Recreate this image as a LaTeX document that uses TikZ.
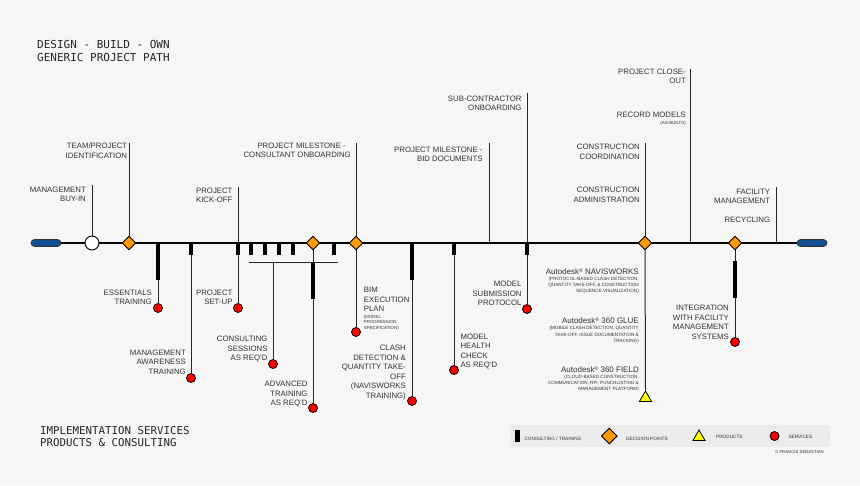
\documentclass[tikz,border=0pt]{standalone}
\usepackage{fontspec}
\setmainfont{Liberation Sans}
\newfontfamily\monofnt{DejaVu Sans Mono}
\usetikzlibrary{shapes.geometric}
\definecolor{bgc}{HTML}{F6F6F6}
\definecolor{legbg}{HTML}{EBEBEB}
\definecolor{dorange}{HTML}{FF9900}
\definecolor{dred}{HTML}{FF0000}
\definecolor{dyellow}{HTML}{FFFF00}
\definecolor{dblue}{HTML}{14508F}
\definecolor{txt}{HTML}{333333}
\pgfdeclarelayer{bglayer}
\pgfdeclarelayer{linelayer}
\pgfsetlayers{bglayer,linelayer,main}
\tikzset{
  lbl/.style={font=\fontsize{7.8}{9.5}\selectfont, text=txt, inner sep=0pt},
  lblR/.style={lbl, anchor=base east, align=right},
  lblL/.style={lbl, anchor=base west, align=left},
  tinyR/.style={font=\fontsize{4.4}{5.7}\selectfont, text=txt, inner sep=0pt, anchor=base east, align=right},
  tinyL/.style={font=\fontsize{4.4}{5.7}\selectfont, text=txt, inner sep=0pt, anchor=base west, align=left},
  prodT/.style={font=\fontsize{8}{9}\selectfont, text=txt, inner sep=0pt, anchor=base east, align=right},
  prodS/.style={font=\fontsize{4.6}{6.2}\selectfont, text=txt, inner sep=0pt, anchor=base east, align=right},
  legtxt/.style={font=\fontsize{4.7}{5.5}\selectfont, text=txt, inner sep=0pt, anchor=base west},
  title/.style={font=\monofnt\fontsize{11}{12.7}\selectfont, text=black!85, inner sep=0pt, anchor=base west, align=left},
  decision/.style={diamond, draw=black, line width=0.9pt, fill=dorange, minimum width=14pt, minimum height=14pt, inner sep=0pt},
  service/.style={circle, draw=black, line width=0.8pt, fill=dred, minimum size=9pt, inner sep=0pt},
  product/.style={regular polygon, regular polygon sides=3, draw=black, line width=0.8pt, fill=dyellow, minimum size=14pt, inner sep=0pt},
  bar/.style={rectangle, fill=black, minimum width=4pt, inner sep=0pt, anchor=north},
  shortbar/.style={bar, minimum height=12pt},
  longbar/.style={bar, minimum height=37pt},
  capsule/.style={rectangle, rounded corners=3.5pt, minimum width=30pt, minimum height=7pt, inner sep=0pt, fill=dblue, draw=black!80, line width=0.7pt},
  startpt/.style={circle, draw=black, line width=0.9pt, fill=white, minimum size=14pt, inner sep=0pt},
  conn/.style={draw=black!85, line width=1pt},
  mainline/.style={draw=black, line width=2pt},
}
\begin{document}
\begin{tikzpicture}[x=1pt,y=-1pt]
\begin{pgfonlayer}{bglayer}
  \fill[bgc] (0,0) rectangle (860,485);
  \fill[legbg] (510,425) rectangle (830,446.7);
\end{pgfonlayer}
\useasboundingbox (0,0) rectangle (860,485);

% titles (base anchor = last line)
\node[title] (t1) at (37,61) {DESIGN - BUILD - OWN\\GENERIC PROJECT PATH};
\node[title, font=\monofnt\fontsize{10.8}{12.4}\selectfont] (t2) at (40,446.7) {IMPLEMENTATION SERVICES\\PRODUCTS \& CONSULTING};

% main line markers
\node[capsule] (capL) at (46,243) {};
\node[capsule] (capR) at (812,243) {};
\node[startpt] (c1) at (92,243) {};
\node[decision] (d1) at (129,243) {};
\node[longbar] (b1) at (158,243) {};
\node[shortbar] (b2) at (191,243) {};
\node[shortbar] (b3) at (238,243) {};
\node[shortbar] (b4) at (251,243) {};
\node[shortbar] (b5) at (265,243) {};
\node[shortbar] (b6) at (279,243) {};
\node[shortbar] (b7) at (293,243) {};
\node[decision] (d2) at (313,243) {};
\node[longbar] (b8) at (313,262) {};
\node[shortbar] (b9) at (334,243) {};
\node[decision] (d3) at (356,243) {};
\node[longbar] (b10) at (412,243) {};
\node[shortbar] (b11) at (454,243) {};
\node[shortbar] (b12) at (527,243) {};
\node[decision] (d4) at (645,243) {};
\node[decision] (d5) at (735,243) {};
\node[longbar] (b13) at (735,261) {};

% services / products
\node[service] (r1) at (158,308) {};
\node[service] (r2) at (191,378) {};
\node[service] (r3) at (238,308) {};
\node[service] (r4) at (273,364) {};
\node[service] (r5) at (313,408) {};
\node[service] (r6) at (356,332) {};
\node[service] (r7) at (412,401) {};
\node[service] (r8) at (454,370) {};
\node[service] (r9) at (527,309) {};
\node[service] (r10) at (735,342) {};
\node[product] (p1) at (645.5,398) {};

% free ends
\coordinate (u1) at (92,185);
\coordinate (u2) at (129,143);
\coordinate (u3) at (238,187);
\coordinate (u4) at (356,143);
\coordinate (u5) at (489,143);
\coordinate (u5b) at (489,243);
\coordinate (u6) at (527,93);
\coordinate (u7) at (645,143);
\coordinate (u8) at (690,69);
\coordinate (u8b) at (690,243);
\coordinate (u9) at (776,187);
\coordinate (u9b) at (776,243);
\coordinate (k1) at (249,262);
\coordinate (k2) at (338,262);
\coordinate (k3) at (273,262);

\begin{pgfonlayer}{linelayer}
  \draw[mainline] (capL) -- (capR);
  \draw[conn] (u1) -- (c1);
  \draw[conn] (u2) -- (d1);
  \draw[conn] (b1.south) -- (r1);
  \draw[conn] (b2.south) -- (r2);
  \draw[conn] (u3) -- (b3.north);
  \draw[conn] (b3.south) -- (r3);
  \draw[conn] (k1) -- (k2);
  \draw[conn] (k3) -- (r4);
  \draw[conn] (d2) -- (b8.north);
  \draw[conn] (b8.south) -- (r5);
  \draw[conn] (u4) -- (d3);
  \draw[conn] (d3) -- (r6);
  \draw[conn] (b10.south) -- (r7);
  \draw[conn] (b11.south) -- (r8);
  \draw[conn] (u5) -- (u5b);
  \draw[conn] (u6) -- (b12.north);
  \draw[conn] (b12.south) -- (r9);
  \draw[conn] (u7) -- (d4);
  \draw[conn] (d4) -- (p1.corner 1);
  \draw[conn] (u8) -- (u8b);
  \draw[conn] (d5) -- (b13.north);
  \draw[conn] (b13.south) -- (r10);
  \draw[conn] (u9) -- (u9b);
\end{pgfonlayer}

% labels above (base anchor = baseline of last line)
\node[lblR] (l1) at (86,201.8) {MANAGEMENT\\BUY-IN};
\node[lblR] (l2) at (127.3,158.1) {TEAM/PROJECT\\IDENTIFICATION};
\node[lblR] (l3) at (232.7,202.8) {PROJECT\\KICK-OFF};
\node[lblR] (l4) at (351,157.8) {PROJECT MILESTONE -\kern5pt\\CONSULTANT ONBOARDING};
\node[lblR] (l5) at (482.7,161.5) {PROJECT MILESTONE -\\BID DOCUMENTS};
\node[lblR] (l6) at (521.7,110.8) {SUB-CONTRACTOR\\ONBOARDING};
\node[lblR] (l7) at (640,159.1) {CONSTRUCTION\\COORDINATION};
\node[lblR] (l8) at (640,202.1) {CONSTRUCTION\\ADMINISTRATION};
\node[lblR] (l9) at (686,83.8) {PROJECT CLOSE-\\OUT};
\node[lblR] (l10) at (686,117.8) {RECORD MODELS};
\node[tinyR] (l10b) at (686,124.3) {(AS-BUILTS)};
\node[lblR] (l11) at (770.3,203.8) {FACILITY\\MANAGEMENT};
\node[lblR] (l12) at (770.3,222.5) {RECYCLING};

% labels below
\node[lblR] (m1) at (152,304.5) {ESSENTIALS\\TRAINING};
\node[lblR] (m2) at (186,374.1) {MANAGEMENT\\AWARENESS\\TRAINING};
\node[lblR] (m3) at (232.7,304.5) {PROJECT\\SET-UP};
\node[lblR] (m4) at (267.7,360.5) {CONSULTING\\SESSIONS\\AS REQ'D};
\node[lblR] (m5) at (307.7,405.5) {ADVANCED\\TRAINING\\AS REQ'D};
\node[lblL] (m6) at (363.7,311.8) {BIM\\EXECUTION\\PLAN};
\node[tinyL] (m6b) at (363.7,329.6) {(MODEL\\PROGRESSION\\SPECIFICATION)};
\node[lblR] (m7) at (406,398) {CLASH\\DETECTION \&\\QUANTITY TAKE-\\OFF\\(NAVISWORKS\\TRAINING)};
\node[lblL] (m8) at (460.3,367.8) {MODEL\\HEALTH\\CHECK\\AS REQ'D};
\node[lblR] (m9) at (521.7,305.5) {MODEL\\SUBMISSION\\PROTOCOL};
\node[lblR] (m10) at (729,339.1) {INTEGRATION\\WITH FACILITY\\MANAGEMENT\\SYSTEMS};

% products
\node[prodT] (q1) at (639,274.6) {Autodesk\raisebox{2.6pt}{\fontsize{5.2}{5}\selectfont ®} NAVISWORKS};
\node[prodS] (q1b) at (639,292.6) {(PROTOCOL-BASED CLASH DETECTION,\\QUANTITY TAKE-OFF, \& CONSTRUCTION\\SEQUENCE VISUALIZATION)};
\node[prodT] (q2) at (639,323.6) {Autodesk\raisebox{2.6pt}{\fontsize{5.2}{5}\selectfont ®} 360 GLUE};
\node[prodS] (q2b) at (639,342.3) {(MOBILE CLASH DETECTION, QUANTITY\\TAKE-OFF, ISSUE DOCUMENTATION \&\\TRACKING)};
\node[prodT] (q3) at (639,372.9) {Autodesk\raisebox{2.6pt}{\fontsize{5.2}{5}\selectfont ®} 360 FIELD};
\node[prodS] (q3b) at (639,390.9) {(CLOUD-BASED CONSTRUCTION,\\COMMUNICATION, RFI, PUNCHLISTING \&\\MANAGEMENT PLATFORM)};

% legend
\node[rectangle, fill=black, minimum width=5pt, minimum height=12pt, inner sep=0pt] (g1) at (517.5,436) {};
\node[legtxt] (g1t) at (524.3,440) {CONSULTING / TRAINING};
\node[decision, minimum width=16pt, minimum height=16pt] (g2) at (609.3,436) {};
\node[legtxt] (g2t) at (626,440) {DECISION POINTS};
\node[product] (g3) at (699,437) {};
\node[legtxt] (g3t) at (716,438.4) {PRODUCTS};
\node[service] (g4) at (774.5,436) {};
\node[legtxt] (g4t) at (788.3,438.4) {SERVICES};
\node[font=\fontsize{4.3}{5}\selectfont, text=txt, inner sep=0pt, anchor=base east] (cr) at (824,453.5) {© FRANCIS SEBASTIAN};
\end{tikzpicture}
\end{document}
